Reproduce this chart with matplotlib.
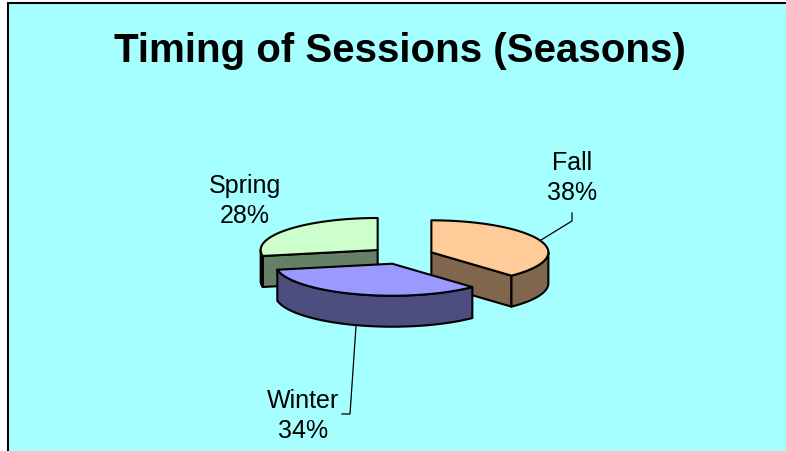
import numpy as np
import matplotlib.pyplot as plt
from matplotlib.patches import Polygon, Rectangle

seasons = ["Fall", "Winter", "Spring"]
shares = [38, 34, 28]
top_colors = ["#FFCC99", "#9999FF", "#CCFFCC"]
side_colors = ["#80664D", "#4D4D80", "#668066"]

# pie geometry in pixel space (y grows downward)
cx, cy = 402, 256.5
rx, ry = 117, 32
depth = 31
explode = 0.27

W, H = 786, 452
fig = plt.figure(figsize=(W / 100, H / 100), dpi=100, facecolor="white")
ax = fig.add_axes([0, 0, 1, 1])
ax.set_xlim(0, W)
ax.set_ylim(H, 0)
ax.axis("off")

ax.add_patch(Rectangle((7.5, 3.5), W + 60, H + 60, facecolor="#A6FFFF",
                       edgecolor="black", lw=1.5, zorder=0))

ax.text(400, 51, "Timing of Sessions (Seasons)", ha="center", va="center",
        fontsize=29, fontweight="bold", family="Liberation Sans", color="black")


def pt(x0, y0, t, dz=0.0):
    r = np.radians(t)
    return x0 + rx * np.cos(r), y0 - ry * np.sin(r) + dz


def arc(x0, y0, a, b, dz=0.0, n=60):
    ts = np.linspace(a, b, n)
    return [pt(x0, y0, t, dz) for t in ts]


total = sum(shares)
slices = []
hi = 90.0
for name, v, tc, sc in zip(seasons, shares, top_colors, side_colors):
    lo = hi - 360.0 * v / total
    mid = (hi + lo) / 2
    m = np.radians(mid)
    sx = cx + explode * rx * np.cos(m)
    sy = cy - explode * ry * np.sin(m)
    slices.append(dict(name=name, v=v, hi=hi, lo=lo, mid=mid, x=sx, y=sy, tc=tc, sc=sc))
    hi = lo

edge = dict(edgecolor="black", lw=1.5, joinstyle="round")

# back slices first, front slices last
for s in sorted(slices, key=lambda s: -np.sin(np.radians(s["mid"]))):
    x0, y0, lo, hi = s["x"], s["y"], s["lo"], s["hi"]
    # radial walls facing the viewer
    for a, vis in ((hi, np.cos(np.radians(hi)) < -1e-9), (lo, np.cos(np.radians(lo)) > 1e-9)):
        if vis:
            p = pt(x0, y0, a)
            wall = [(x0, y0), p, (p[0], p[1] + depth), (x0, y0 + depth)]
            ax.add_patch(Polygon(wall, closed=True, facecolor=s["sc"], **edge, zorder=2))
    # front part of the outer rim
    for k in (0, 1):
        a = max(lo, -180 - 360 * k)
        b = min(hi, 0 - 360 * k)
        if b > a:
            upper = arc(x0, y0, a, b)
            lower = arc(x0, y0, b, a, depth)
            ax.add_patch(Polygon(upper + lower, closed=True, facecolor=s["sc"], **edge, zorder=2))
    top = [(x0, y0)] + arc(x0, y0, hi, lo)
    ax.add_patch(Polygon(top, closed=True, facecolor=s["tc"], **edge, zorder=2))

# data labels
label_pos = {"Fall": (572, 178), "Winter": (303, 416), "Spring": (245, 201)}
for s in slices:
    lx, ly = label_pos[s["name"]]
    ax.text(lx, ly, f"{s['name']}\n{s['v']}%", ha="center", va="center",
            fontsize=18, family="Liberation Sans", color="black", linespacing=1.35)

fall = slices[0]
p = pt(fall["x"], fall["y"], fall["mid"])
ax.plot([p[0], 572, 572], [p[1], 222, 214], color="black", lw=0.9, zorder=3)

winter = slices[1]
p = pt(winter["x"], winter["y"], winter["mid"], depth)
ax.plot([p[0], 350, 342], [p[1], 415, 415], color="black", lw=0.9, zorder=3)

fig.savefig("out.png", dpi=100, facecolor=fig.get_facecolor())
